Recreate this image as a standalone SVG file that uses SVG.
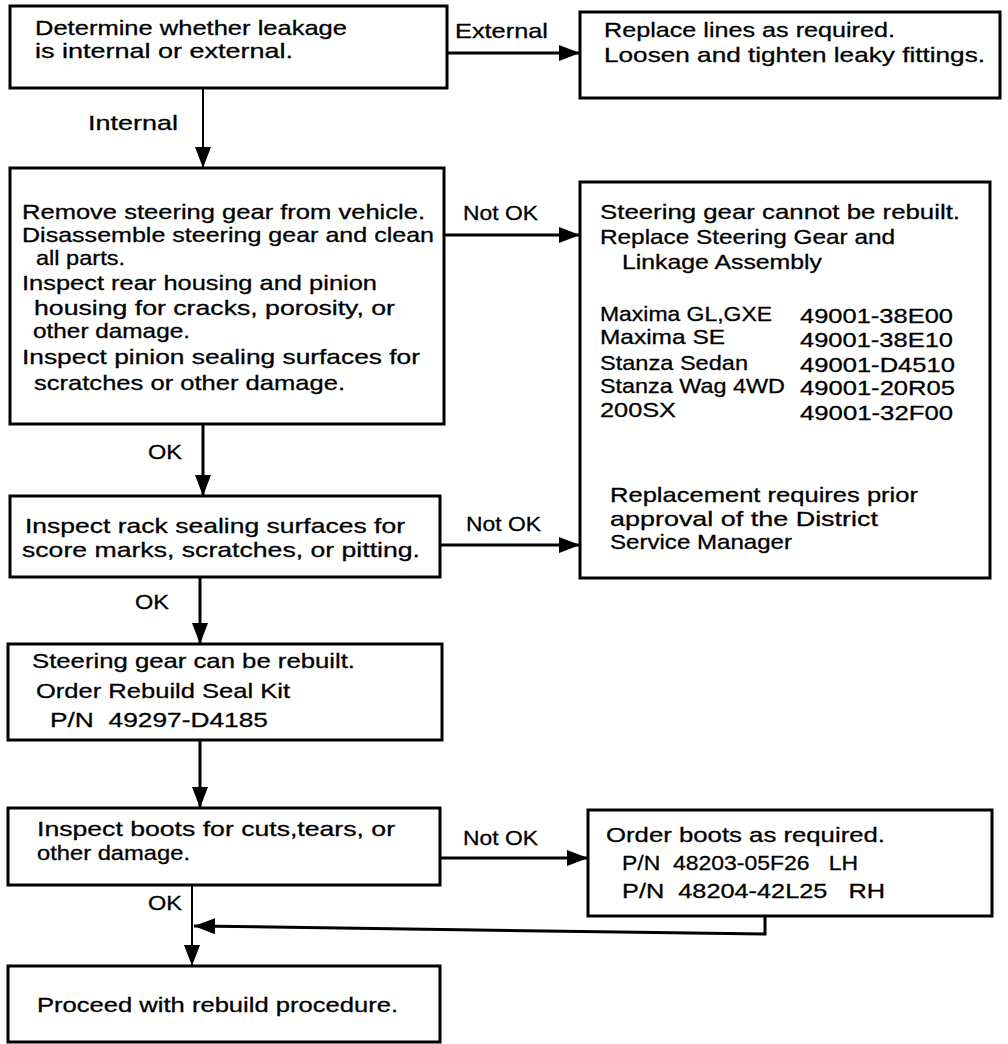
<svg xmlns="http://www.w3.org/2000/svg" width="1008" height="1044" viewBox="0 0 1008 1044">
<defs>
<style>
.box{fill:#fff;stroke:#000;stroke-width:3}
.c{fill:none;stroke:#000;stroke-width:3}
.thin{stroke-width:2}
text{font-family:"Liberation Sans",Arial,sans-serif;font-size:21px;fill:#000;stroke:#000;stroke-width:0.3}
</style>
<marker id="ah" markerUnits="userSpaceOnUse" markerWidth="22" markerHeight="18" refX="21" refY="8" orient="auto">
<path d="M0,0 L21,8 L0,16 Z" fill="#000"/>
</marker>
</defs>
<rect width="1008" height="1044" fill="#fff"/>
<g id="connectors">
<line class="c" x1="447" y1="53" x2="580" y2="53" marker-end="url(#ah)"/>
<line class="c thin" x1="203" y1="88" x2="203" y2="168" marker-end="url(#ah)"/>
<line class="c" x1="444" y1="235" x2="580" y2="235" marker-end="url(#ah)"/>
<line class="c" x1="203" y1="424" x2="203" y2="496" marker-end="url(#ah)"/>
<line class="c" x1="440" y1="545" x2="580" y2="545" marker-end="url(#ah)"/>
<line class="c" x1="200" y1="577" x2="200" y2="644" marker-end="url(#ah)"/>
<line class="c" x1="200" y1="740" x2="200" y2="808" marker-end="url(#ah)"/>
<line class="c" x1="440" y1="858" x2="588" y2="858" marker-end="url(#ah)"/>
<line class="c thin" x1="192" y1="885" x2="192" y2="966" marker-end="url(#ah)"/>
<polyline class="c" points="765,916 765,934 194,926" marker-end="url(#ah)"/>
<text x="455" y="38" textLength="93" lengthAdjust="spacingAndGlyphs">External</text>
<text x="88" y="130" textLength="90" lengthAdjust="spacingAndGlyphs">Internal</text>
<text x="463" y="220" textLength="75" lengthAdjust="spacingAndGlyphs">Not OK</text>
<text x="148" y="459" textLength="34" lengthAdjust="spacingAndGlyphs">OK</text>
<text x="466" y="531" textLength="75" lengthAdjust="spacingAndGlyphs">Not OK</text>
<text x="135" y="609" textLength="34" lengthAdjust="spacingAndGlyphs">OK</text>
<text x="463" y="845" textLength="75" lengthAdjust="spacingAndGlyphs">Not OK</text>
<text x="148" y="910" textLength="34" lengthAdjust="spacingAndGlyphs">OK</text>
</g>
<g id="n1">
<rect class="box" x="10" y="6" width="437" height="82"/>
<text x="35" y="35" textLength="312" lengthAdjust="spacingAndGlyphs">Determine whether leakage</text>
<text x="35" y="58" textLength="258" lengthAdjust="spacingAndGlyphs">is internal or external.</text>
</g>
<g id="n2">
<rect class="box" x="580" y="12" width="420" height="86"/>
<text x="604" y="37" textLength="291" lengthAdjust="spacingAndGlyphs">Replace lines as required.</text>
<text x="604" y="62" textLength="381" lengthAdjust="spacingAndGlyphs">Loosen and tighten leaky fittings.</text>
</g>
<g id="n3">
<rect class="box" x="10" y="168" width="434" height="256"/>
<text x="22" y="219" textLength="403" lengthAdjust="spacingAndGlyphs">Remove steering gear from vehicle.</text>
<text x="22" y="242" textLength="412" lengthAdjust="spacingAndGlyphs">Disassemble steering gear and clean</text>
<text x="36" y="265" textLength="89" lengthAdjust="spacingAndGlyphs">all parts.</text>
<text x="22" y="290" textLength="355" lengthAdjust="spacingAndGlyphs">Inspect rear housing and pinion</text>
<text x="34" y="315" textLength="361" lengthAdjust="spacingAndGlyphs">housing for cracks, porosity, or</text>
<text x="33" y="338" textLength="157" lengthAdjust="spacingAndGlyphs">other damage.</text>
<text x="22" y="364" textLength="398" lengthAdjust="spacingAndGlyphs">Inspect pinion sealing surfaces for</text>
<text x="34" y="390" textLength="311" lengthAdjust="spacingAndGlyphs">scratches or other damage.</text>
</g>
<g id="n4">
<rect class="box" x="580" y="182" width="410" height="396"/>
<text x="600" y="219" textLength="360" lengthAdjust="spacingAndGlyphs">Steering gear cannot be rebuilt.</text>
<text x="600" y="244" textLength="295" lengthAdjust="spacingAndGlyphs">Replace Steering Gear and</text>
<text x="622" y="269" textLength="200" lengthAdjust="spacingAndGlyphs">Linkage Assembly</text>
<text x="600" y="321" textLength="172" lengthAdjust="spacingAndGlyphs">Maxima GL,GXE</text>
<text x="800" y="323" textLength="153" lengthAdjust="spacingAndGlyphs">49001-38E00</text>
<text x="600" y="344" textLength="125" lengthAdjust="spacingAndGlyphs">Maxima SE</text>
<text x="800" y="347" textLength="153" lengthAdjust="spacingAndGlyphs">49001-38E10</text>
<text x="600" y="370" textLength="148" lengthAdjust="spacingAndGlyphs">Stanza Sedan</text>
<text x="800" y="372" textLength="155" lengthAdjust="spacingAndGlyphs">49001-D4510</text>
<text x="600" y="393" textLength="185" lengthAdjust="spacingAndGlyphs">Stanza Wag 4WD</text>
<text x="800" y="395" textLength="155" lengthAdjust="spacingAndGlyphs">49001-20R05</text>
<text x="600" y="417" textLength="76" lengthAdjust="spacingAndGlyphs">200SX</text>
<text x="800" y="420" textLength="153" lengthAdjust="spacingAndGlyphs">49001-32F00</text>
<text x="610" y="502" textLength="308" lengthAdjust="spacingAndGlyphs">Replacement requires prior</text>
<text x="610" y="526" textLength="268" lengthAdjust="spacingAndGlyphs">approval of the District</text>
<text x="610" y="549" textLength="182" lengthAdjust="spacingAndGlyphs">Service Manager</text>
</g>
<g id="n5">
<rect class="box" x="10" y="496" width="430" height="81"/>
<text x="25" y="533" textLength="380" lengthAdjust="spacingAndGlyphs">Inspect rack sealing surfaces for</text>
<text x="22" y="557" textLength="398" lengthAdjust="spacingAndGlyphs">score marks, scratches, or pitting.</text>
</g>
<g id="n6">
<rect class="box" x="8" y="644" width="434" height="96"/>
<text x="32" y="668" textLength="323" lengthAdjust="spacingAndGlyphs">Steering gear can be rebuilt.</text>
<text x="36" y="698" textLength="254" lengthAdjust="spacingAndGlyphs">Order Rebuild Seal Kit</text>
<text x="50" y="727" textLength="218" lengthAdjust="spacingAndGlyphs" xml:space="preserve">P/N  49297-D4185</text>
</g>
<g id="n7">
<rect class="box" x="8" y="808" width="432" height="77"/>
<text x="37" y="836" textLength="358" lengthAdjust="spacingAndGlyphs">Inspect boots for cuts,tears, or</text>
<text x="37" y="860" textLength="153" lengthAdjust="spacingAndGlyphs">other damage.</text>
</g>
<g id="n8">
<rect class="box" x="588" y="810" width="404" height="106"/>
<text x="606" y="842" textLength="279" lengthAdjust="spacingAndGlyphs">Order boots as required.</text>
<text x="622" y="870" textLength="236" lengthAdjust="spacingAndGlyphs" xml:space="preserve">P/N  48203-05F26   LH</text>
<text x="622" y="898" textLength="263" lengthAdjust="spacingAndGlyphs" xml:space="preserve">P/N  48204-42L25   RH</text>
</g>
<g id="n9">
<rect class="box" x="8" y="966" width="432" height="76"/>
<text x="37" y="1012" textLength="361" lengthAdjust="spacingAndGlyphs">Proceed with rebuild procedure.</text>
</g>
</svg>
